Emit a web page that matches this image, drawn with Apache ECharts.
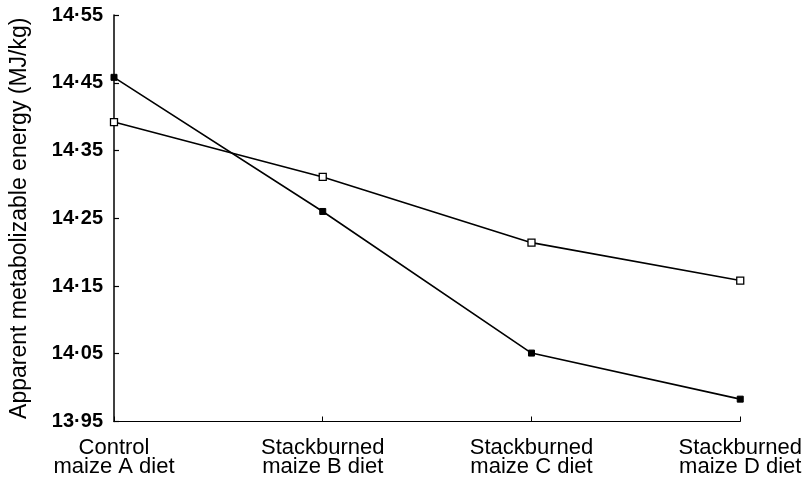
<!DOCTYPE html>
<html>
<head>
<meta charset="utf-8">
<script src="https://cdn.jsdelivr.net/npm/echarts@6/dist/echarts.min.js"></script>
<style>html,body{margin:0;padding:0;background:#fff}#c{width:805px;height:478px}</style>
</head>
<body>
<div id="c"></div>
<script>
const categories = ['Control\nmaize A diet', 'Stackburned\nmaize B diet', 'Stackburned\nmaize C diet', 'Stackburned\nmaize D diet'];
const filledSeries = [14.458, 14.260, 14.051, 13.983];
const openSeries = [14.392, 14.311, 14.214, 14.158];
const yTicks = [13.95, 14.05, 14.15, 14.25, 14.35, 14.45, 14.55];
const yTitle = 'Apparent metabolizable energy (MJ/kg)';

const chart = echarts.init(document.getElementById('c'), null, {renderer: 'canvas'});
const font = 'Liberation Sans, Arial, sans-serif';
chart.setOption({
  animation: false,
  backgroundColor: '#fff',
  grid: {left: 110, right: 64, top: 15, bottom: 55, containLabel: false},
  xAxis: {
    type: 'category',
    data: categories,
    boundaryGap: false,
    axisLine: {lineStyle: {color: '#000', width: 1.2}},
    axisTick: {inside: true, length: 5, alignWithLabel: true, lineStyle: {color: '#000', width: 1}},
    axisLabel: {color: '#000', fontFamily: font, fontSize: 22, lineHeight: 19, margin: 17, interval: 0},
    splitLine: {show: false}
  },
  yAxis: {
    type: 'value',
    min: 13.95,
    max: 14.55,
    name: yTitle,
    nameLocation: 'middle',
    nameGap: 83,
    nameTextStyle: {color: '#000', fontFamily: font, fontSize: 23},
    axisLine: {show: true, lineStyle: {color: '#000', width: 1.5}},
    axisTick: {show: true, inside: true, length: 5, customValues: yTicks, lineStyle: {color: '#000', width: 1.2}},
    axisLabel: {color: '#000', fontFamily: font, fontSize: 20, fontWeight: 'bold', margin: 11, customValues: yTicks,
      formatter: v => v.toFixed(2).replace('.', '\u00b7')},
    splitLine: {show: false}
  },
  series: [
    {
      type: 'line',
      data: filledSeries,
      symbol: 'rect',
      symbolSize: 6,
      lineStyle: {color: '#000', width: 1.6},
      itemStyle: {color: '#000', borderColor: '#000', borderWidth: 1},
      z: 3
    },
    {
      type: 'line',
      data: openSeries,
      symbol: 'rect',
      symbolSize: 7,
      lineStyle: {color: '#000', width: 1.6},
      itemStyle: {color: '#fff', borderColor: '#000', borderWidth: 1.3},
      z: 4
    }
  ]
});
</script>
</body>
</html>
